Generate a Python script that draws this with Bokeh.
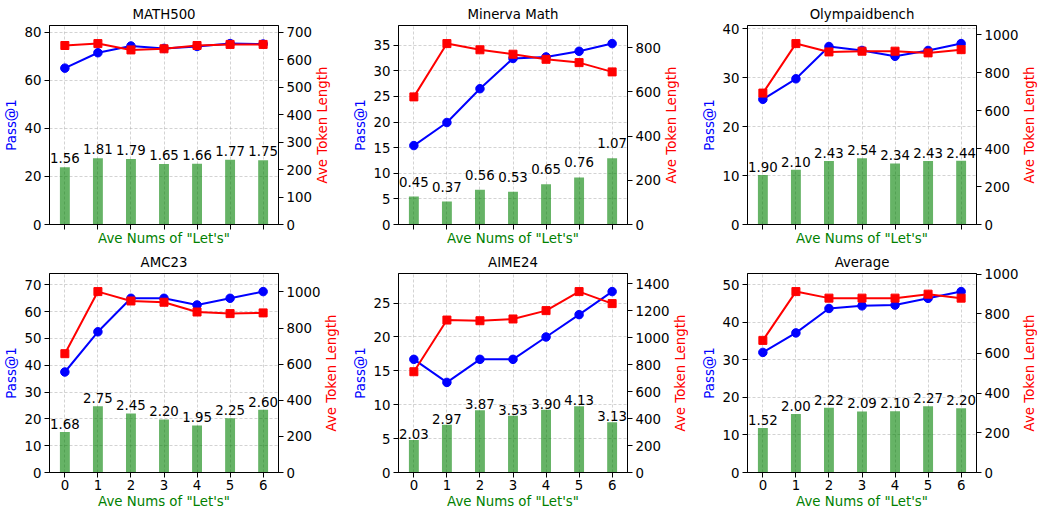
import math
from bokeh.plotting import figure
from bokeh.models import Range1d, LinearAxis, FixedTicker, SingleIntervalTicker
from bokeh.layouts import row, column
from bokeh.core.properties import value
from bokeh.embed import file_html
from bokeh.resources import INLINE

# ---------------- data ----------------
x_vals = [0, 1, 2, 3, 4, 5, 6]
titles = ["MATH500", "Minerva Math", "Olympaidbench", "AMC23", "AIME24", "Average"]

pass_math500 = [65.0, 71.4, 74.2, 73.2, 74.0, 75.2, 75.0]
tok_math500 = [651, 658, 635, 639, 651, 655, 655]
lets_math500 = [1.56, 1.81, 1.79, 1.65, 1.66, 1.77, 1.75]

pass_minerva = [15.4, 19.9, 26.5, 32.4, 32.7, 33.8, 35.3]
tok_minerva = [577, 818, 790, 770, 747, 732, 690]
lets_minerva = [0.45, 0.37, 0.56, 0.53, 0.65, 0.76, 1.07]

pass_olympiad = [25.6, 29.8, 36.4, 35.6, 34.4, 35.6, 37.0]
tok_olympiad = [693, 954, 910, 914, 914, 905, 922]
lets_olympiad = [1.90, 2.10, 2.43, 2.54, 2.34, 2.43, 2.44]

pass_amc23 = [37.5, 52.5, 65.0, 65.0, 62.5, 65.0, 67.5]
tok_amc23 = [658, 1002, 950, 943, 889, 880, 884]
lets_amc23 = [1.68, 2.75, 2.45, 2.20, 1.95, 2.25, 2.60]

pass_aime24 = [16.7, 13.3, 16.7, 16.7, 20.0, 23.3, 26.7]
tok_aime24 = [747, 1130, 1125, 1138, 1200, 1341, 1252]
lets_aime24 = [2.03, 2.97, 3.87, 3.53, 3.90, 4.13, 3.13]

pass_average = [32.0, 37.2, 43.7, 44.4, 44.6, 46.4, 48.2]
tok_average = [666, 912, 879, 879, 879, 899, 879]
lets_average = [1.52, 2.00, 2.22, 2.09, 2.10, 2.27, 2.20]

left_tick_step = [20, 5, 10, 10, 5, 10]
right_tick_step = [100, 200, 200, 200, 200, 200]

pass_all = [pass_math500, pass_minerva, pass_olympiad, pass_amc23, pass_aime24, pass_average]
tok_all = [tok_math500, tok_minerva, tok_olympiad, tok_amc23, tok_aime24, tok_average]
lets_all = [lets_math500, lets_minerva, lets_olympiad, lets_amc23, lets_aime24, lets_average]

# ---------------- style ----------------
FONT = "DejaVu Sans"
FS = "10pt"
FW, FH = 229, 199
LW = 16                       # width of the strip holding the right-axis title
DIGIT_W = 8.48
label_gap_px = [9, 15, 8, 8, 6, 8]
LEFT_BORDER = 49
col_width = [346, 346, 341]
TOP_BORDER = [25, 24]
BOTTOM_BORDER = [24, 40]


def style_axis(ax, label_color):
    ax.major_label_text_font = FONT
    ax.major_label_text_font_size = FS
    ax.major_label_text_color = "black"
    ax.axis_label_text_font = FONT
    ax.axis_label_text_font_size = FS
    ax.axis_label_text_font_style = "normal"
    ax.axis_label_text_color = label_color
    ax.axis_line_color = "black"
    ax.major_tick_line_color = "black"
    ax.major_tick_in = 0
    ax.major_tick_out = 5
    ax.minor_tick_line_color = None
    ax.major_label_standoff = 3
    ax.axis_label_standoff = 3


def make_panel(i):
    r = 1 if i >= 3 else 0
    col = i % 3
    pv, tv, lv = pass_all[i], tok_all[i], lets_all[i]
    top_tok = max(tv) * 1.1
    max_tick = int(top_tok // right_tick_step[i] * right_tick_step[i])
    n_dig = len(str(max_tick))
    rb = int(round(8 + DIGIT_W * n_dig))
    strip_right = col_width[col] - LEFT_BORDER - FW - rb - LW

    p = figure(
        frame_width=FW, frame_height=FH,
        x_range=Range1d(-0.465, 6.465),
        y_range=Range1d(0, max(pv) * 1.1),
        output_backend="svg", toolbar_location=None, tools="",
        min_border_left=LEFT_BORDER,
        min_border_right=rb,
        min_border_top=TOP_BORDER[r],
        min_border_bottom=BOTTOM_BORDER[r],
    )
    p.extra_y_ranges = {
        "tok": Range1d(0, top_tok),
        "bars": Range1d(0, max(lv) * 3),
    }
    p.title.text = titles[i]
    p.title.align = "center"
    p.title.text_font = FONT
    p.title.text_font_size = FS
    p.title.text_font_style = "normal"
    p.title.text_color = "black"
    p.title.standoff = 8
    p.outline_line_color = "black"
    p.outline_line_alpha = 1.0
    p.background_fill_color = "white"
    p.border_fill_color = "white"

    # axes
    p.xaxis.ticker = FixedTicker(ticks=x_vals)
    p.xaxis.axis_label = 'Ave Nums of "Let\'s"'
    style_axis(p.xaxis[0], "green")
    if r == 1:
        p.xaxis.major_label_standoff = 2
        p.xaxis.axis_label_standoff = 1
    else:
        p.xaxis.major_label_overrides = {t: "" for t in x_vals}
        p.xaxis.major_label_standoff = 0
        p.xaxis.axis_label_standoff = 1
    p.yaxis.ticker = SingleIntervalTicker(interval=left_tick_step[i])
    p.yaxis.axis_label = "Pass@1"
    style_axis(p.yaxis[0], "blue")

    rax = LinearAxis(y_range_name="tok",
                     ticker=SingleIntervalTicker(interval=right_tick_step[i]))
    style_axis(rax, "red")
    p.add_layout(rax, "right")

    # grid
    for g in (p.xgrid[0], p.ygrid[0]):
        g.grid_line_color = "#b0b0b0"
        g.grid_line_dash = "3 2"
        g.grid_line_width = 0.8
        g.grid_line_alpha = 0.7

    # bars
    p.vbar(x=x_vals, top=lv, width=0.3, bottom=0, y_range_name="bars",
           fill_color="green", fill_alpha=0.6, line_color=None)
    p.text(x=x_vals, y=lv, text=[f"{v:.2f}" for v in lv], y_range_name="bars",
           text_align="center", text_baseline="alphabetic", y_offset=-label_gap_px[i],
           text_font=value(FONT), text_font_size=value(FS), text_color="black")

    # pass@1
    p.line(x_vals, pv, line_color="blue", line_width=2)
    p.scatter(x_vals, pv, marker="circle", size=8.5, fill_color="blue", line_color="blue")
    # token length
    p.line(x_vals, tv, line_color="red", line_width=2, y_range_name="tok")
    p.scatter(x_vals, tv, marker="square", size=8, fill_color="red", line_color="red",
              y_range_name="tok")

    # narrow strip carrying the right-axis title (reads bottom to top)
    s = figure(
        frame_width=LW, frame_height=FH,
        x_range=Range1d(0, 1), y_range=Range1d(0, 1),
        x_axis_type=None, y_axis_type=None,
        output_backend="svg", toolbar_location=None, tools="",
        min_border_left=0, min_border_right=max(strip_right, 0),
        min_border_top=TOP_BORDER[r], min_border_bottom=BOTTOM_BORDER[r],
    )
    s.outline_line_color = None
    s.background_fill_color = "white"
    s.border_fill_color = "white"
    s.text(x=[0.5], y=[0.5], text=["Ave Token Length"], angle=math.pi / 2,
           text_align="center", text_baseline="middle",
           text_font=value(FONT), text_font_size=value(FS), text_color="red")
    return p, s


items = []
for i in range(6):
    items.extend(make_panel(i))
layout = column(row(*items[:6], spacing=0), row(*items[6:], spacing=0), spacing=0)

open("out.html", "w").write(file_html(layout, INLINE))
